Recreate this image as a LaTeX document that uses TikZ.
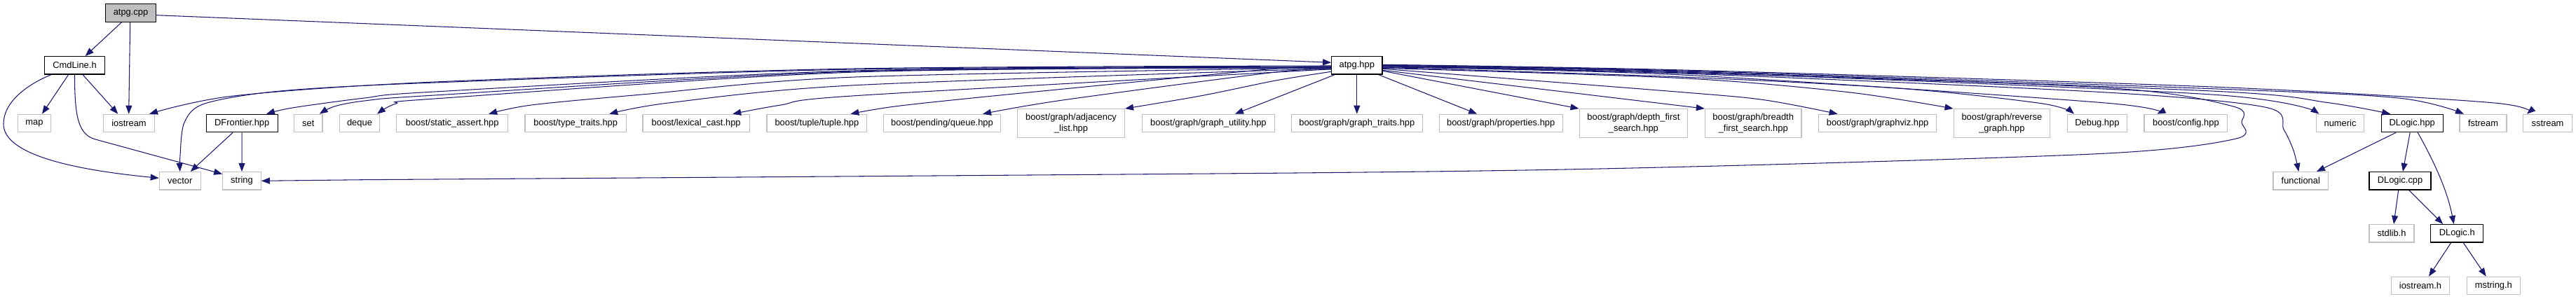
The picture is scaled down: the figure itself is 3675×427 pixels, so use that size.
\documentclass[tikz,border=0pt]{standalone}
\usepackage{fontspec}
\setmainfont{Liberation Sans}
\usetikzlibrary{arrows.meta,calc}
\definecolor{edgec}{HTML}{191970}
\definecolor{greyb}{HTML}{BFBFBF}
\begin{document}
\begin{tikzpicture}[x=1pt,y=-1pt,
  box/.style={draw=black, line width=1.1pt, inner sep=0pt, fill=white, minimum height=25.5pt, font=\fontsize{12.9}{16}\selectfont, align=center},
  ext/.style={box, draw=greyb},
  exttwo/.style={ext, minimum height=40.7pt},
  edge/.style={draw=edgec, line width=1.05pt, -{Triangle[length=12pt,width=9pt]}},
]
\fill[white] (0,0) rectangle (3675,427);
\useasboundingbox (0,0) rectangle (3675,427);
% rank 0
\node[box, fill=greyb, minimum width=72.4pt] (atpgc) at (186.5,18.7) {atpg.cpp};
% rank 1
\node[box, minimum width=85.6pt] (cmdline) at (106.5,93.3) {CmdLine.h};
\node[box, minimum width=72.3pt] (atpgh) at (1935.8,93.3) {atpg.hpp};
% rank 2
\node[ext, minimum width=47.4pt] (map) at (49,176) {map};
\node[ext, minimum width=72.6pt] (iostream) at (184,176) {iostream};
\node[box, minimum width=101.7pt] (dfront) at (345.2,176) {DFrontier.hpp};
\node[ext, minimum width=40.3pt] (set) at (439.8,176) {set};
\node[ext, minimum width=57.4pt] (deque) at (513,176) {deque};
\node[ext, minimum width=158.8pt] (sassert) at (645.2,176) {boost/static\_assert.hpp};
\node[ext, minimum width=144.4pt] (ttraits) at (821.2,176) {boost/type\_traits.hpp};
\node[ext, minimum width=152.4pt] (lcast) at (993.2,176) {boost/lexical\_cast.hpp};
\node[ext, minimum width=142.9pt] (tuple) at (1165.4,176) {boost/tuple/tuple.hpp};
\node[ext, minimum width=166.9pt] (pqueue) at (1344,176) {boost/pending/queue.hpp};
\node[exttwo, minimum width=153pt] (adjl) at (1528,176) {boost/graph/adjacency\\\_list.hpp};
\node[ext, minimum width=189pt] (gutil) at (1723.9,176) {boost/graph/graph\_utility.hpp};
\node[ext, minimum width=187pt] (gtraits) at (1935.8,176) {boost/graph/graph\_traits.hpp};
\node[ext, minimum width=176.3pt] (props) at (2141.2,176) {boost/graph/properties.hpp};
\node[exttwo, minimum width=154.7pt] (dfs) at (2330.4,176) {boost/graph/depth\_first\\\_search.hpp};
\node[exttwo, minimum width=137.6pt] (bfs) at (2501.2,176) {boost/graph/breadth\\\_first\_search.hpp};
\node[ext, minimum width=168.1pt] (gviz) at (2678.6,176) {boost/graph/graphviz.hpp};
\node[exttwo, minimum width=137.7pt] (rgraph) at (2855.9,176) {boost/graph/reverse\\\_graph.hpp};
\node[ext, minimum width=85.1pt] (debug) at (2991.9,176) {Debug.hpp};
\node[ext, minimum width=118.8pt] (config) at (3118.4,176) {boost/config.hpp};
\node[ext, minimum width=68.4pt] (numeric) at (3338.5,176) {numeric};
\node[box, minimum width=88.3pt] (dlhpp) at (3441.2,176) {DLogic.hpp};
\node[ext, minimum width=67pt] (fstream) at (3542.5,176) {fstream};
\node[ext, minimum width=69.6pt] (sstream) at (3634.5,176) {sstream};
% rank 3
\node[ext, minimum width=59pt] (vector) at (256.8,258.3) {vector};
\node[ext, minimum width=54.6pt] (string) at (345,258.3) {string};
\node[ext, minimum width=78.7pt] (functional) at (3282.3,258.3) {functional};
\node[box, minimum width=88pt] (dlcpp) at (3424,258.3) {DLogic.cpp};
% rank 4
\node[ext, minimum width=64pt] (stdlib) at (3412,333.3) {stdlib.h};
\node[box, minimum width=75pt] (dlh) at (3505.2,333.3) {DLogic.h};
% rank 5
\node[ext, minimum width=82.6pt] (iostreamh) at (3453,408) {iostream.h};
\node[ext, minimum width=76pt] (mstringh) at (3557.3,408) {mstring.h};

% atpg.cpp edges
\draw[edge] ([xshift=-13.2pt]atpgc.south) -- ([xshift=15.2pt]cmdline.north);
\draw[edge] ([xshift=-0.8pt]atpgc.south) -- ([xshift=-0.3pt]iostream.north);
\draw[edge] ([yshift=-3pt]atpgc.east) -- ([yshift=4pt]atpgh.west);
% CmdLine.h edges
\draw[edge] ([xshift=-33.2pt]cmdline.south) .. controls (40,120) and (5,145) .. (5,177)
  .. controls (5,215) and (80,240) .. ([yshift=4pt]vector.west);
\draw[edge] ([xshift=-8.8pt]cmdline.south) -- ([xshift=11pt]map.north);
\draw[edge] ([xshift=11.5pt]cmdline.south) -- ([xshift=-15.7pt]iostream.north);
\draw[edge] (cmdline.south) .. controls (106.5,165) and (111,192) .. (136,199) -- ([yshift=-3.5pt]string.north west);
% DFrontier edges
\draw[edge] ([xshift=-13pt]dfront.south) -- ([xshift=15pt]vector.north);
\draw[edge] (dfront.south) -- (string.north);
% atpg.hpp leftward edges
\draw[edge] plot[smooth] coordinates {([yshift=-0.7pt]atpgh.west) (1220,98) (620,117) (333,137) ([xshift=29pt]iostream.north)};
\draw[edge] plot[smooth] coordinates {([yshift=-1.7pt]atpgh.west) (1220,99) (620,118) (400,130) (292,148) (263,175) (257,222) (vector.north)};
\draw[edge] plot[smooth] coordinates {([yshift=-2.7pt]atpgh.west) (1220,101) (620,131) (520,140) (417,154) ([xshift=34.8pt]dfront.north)};
\draw[edge] plot[smooth] coordinates {([yshift=-3.2pt]atpgh.west) (1220,102) (620,136) (520,144) (477,152) ([xshift=16pt]set.north)};
\draw[edge] plot[smooth] coordinates {([yshift=-3.7pt]atpgh.west) (1220,103) (620,141) (565,148) ([xshift=25pt]deque.north)};
\draw[edge] plot[smooth] coordinates {([yshift=-3.5pt]atpgh.west) (1220,110) (916,135) (758,150) ([xshift=52pt]sassert.north)};
\draw[edge] plot[smooth] coordinates {([yshift=-4.5pt]atpgh.west) (1220,121.7) (956,146.7) ([xshift=48pt]ttraits.north)};
\draw[edge] plot[smooth] coordinates {([yshift=-5.5pt]atpgh.west) (1220,136.7) (1114,150) ([xshift=52pt]lcast.north)};
\draw[edge] plot[smooth] coordinates {([yshift=-2.5pt]atpgh.west) (1820,98) (1437,135) (1279,151.7) ([xshift=48pt]tuple.north)};
\draw[edge] plot[smooth] coordinates {([yshift=-5.7pt]atpgh.west) (1820,103) (1516,143) ([xshift=58pt]pqueue.north)};
\draw[edge] plot[smooth] coordinates {([yshift=-9pt]atpgh.west) (1820,115) (1714,136.7) (adjl.north east)};
\draw[edge] ([xshift=5.3pt]atpgh.south west) -- ([xshift=38pt]gutil.north);
% atpg.hpp rightward edges
\draw[edge] (atpgh.south) -- (gtraits.north);
\draw[edge] ([xshift=-6pt]atpgh.south east) -- ([xshift=-34pt]props.north);
\draw[edge] ([yshift=-8pt]atpgh.east) -- (dfs.north west);
\draw[edge] ([yshift=-7pt]atpgh.east) -- (bfs.north west);
\draw[edge] plot[smooth] coordinates {([yshift=-5pt]atpgh.east) (2400,131.7) (2518.6,143) ([xshift=-57pt]gviz.north)};
\draw[edge] plot[smooth] coordinates {([yshift=-4pt]atpgh.east) (2400,111.7) (2637,131.7) (rgraph.north west)};
\draw[edge] plot[smooth] coordinates {([yshift=-3pt]atpgh.east) (2400,110) (2716,126.7) (2914,148) ([xshift=-33pt]debug.north)};
\draw[edge] plot[smooth] coordinates {([yshift=-2.5pt]atpgh.east) (2400,107) (3000,146.7) ([xshift=-41pt]config.north)};
\draw[edge] plot[smooth] coordinates {([yshift=-1pt]atpgh.east) (2400,104) (3000,125) (3185,151.7) (3198,175) (3189,198.3) (3000,219.3) (2400,238.3) (1880,246.7) (520,256.7)} -- (string.east);
\draw[edge] plot[smooth] coordinates {([yshift=-1.5pt]atpgh.east) (2400,105) (3000,131.7) (3232.5,153.3) (3258,185) (3272,215) ([xshift=-3pt]functional.north)};
\draw[edge] plot[smooth] coordinates {([yshift=-1pt]atpgh.east) (2400,103) (3155,135) ([xshift=-30pt]numeric.north)};
\draw[edge] plot[smooth] coordinates {([yshift=0pt]atpgh.east) (2400,102) (3155,130) (3321.7,146.7) ([xshift=-31pt]dlhpp.north)};
\draw[edge] plot[smooth] coordinates {([yshift=0.5pt]atpgh.east) (2400,101) (3155,126.7) (3421.7,140) ([xshift=-27.5pt]fstream.north)};
\draw[edge] plot[smooth] coordinates {([yshift=1pt]atpgh.east) (2400,100) (3155,124) (3555,146.7) ([xshift=-29.5pt]sstream.north)};
% DLogic edges
\draw[edge] ([xshift=-23pt]dlhpp.south) -- ([xshift=22.7pt]functional.north);
\draw[edge] ([xshift=-3pt]dlhpp.south) -- ([xshift=4pt]dlcpp.north);
\draw[edge] ([xshift=8pt]dlhpp.south) .. controls (3475,235) and (3492,275) .. ([xshift=-4.5pt]dlh.north);
\draw[edge] ([xshift=-2.3pt]dlcpp.south) -- ([xshift=3pt]stdlib.north);
\draw[edge] ([xshift=12.7pt]dlcpp.south) -- ([xshift=-20pt]dlh.north);
\draw[edge] ([xshift=-8.5pt]dlh.south) -- ([xshift=12pt]iostreamh.north);
\draw[edge] ([xshift=9pt]dlh.south) -- ([xshift=-10.6pt]mstringh.north);
\end{tikzpicture}
\end{document}
